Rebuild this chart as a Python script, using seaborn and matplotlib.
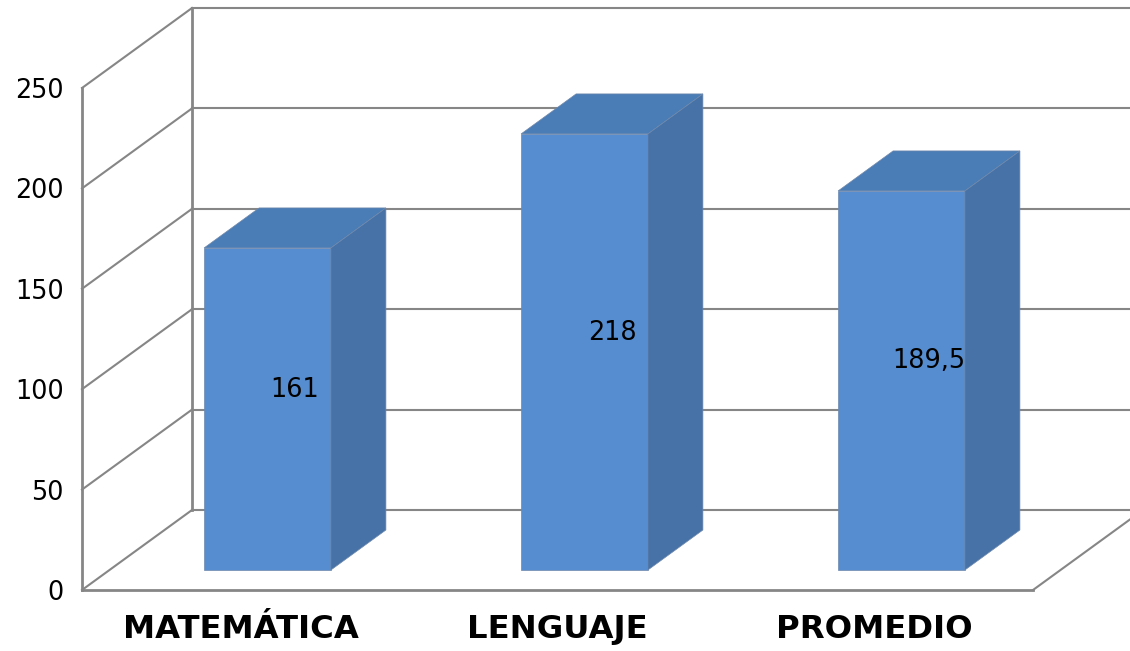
import matplotlib
matplotlib.use('Agg')
import matplotlib.pyplot as plt
from matplotlib.patches import Polygon
from matplotlib.transforms import Affine2D
import pandas as pd
import seaborn as sns

categories = ['MATEMÁTICA', 'LENGUAJE', 'PROMEDIO']
values = [161, 218, 189.5]
value_labels = ['161', '218', '189,5']
y_ticks = [0, 50, 100, 150, 200, 250]

FRONT = '#568dd0'
TOP = '#4a7cb6'
SIDE = '#4672a7'
EDGE = '#6f88ab'
GRID = '#868686'

sns.set_theme(style='white')
plt.rcParams['font.family'] = ['DejaVu Sans']

fig = plt.figure(figsize=(11.3, 6.51), dpi=100)
# axes box = front plane of the fake 3d chart, in pixels of the 1130x651 image
ax = fig.add_axes([82 / 1130, (651 - 590) / 651, (1033 - 82) / 1130, (590 - 88) / 651])

df = pd.DataFrame({'cat': categories, 'val': values})
sns.barplot(data=df, x='cat', y='val', color=FRONT, saturation=1, width=0.4, ax=ax, zorder=5)
ax.set_xlim(-0.5, 2.5)
ax.set_ylim(0, 250)

# depth of the walls and of the bars, in pixels (y up)
wall_dx, wall_dy = 110, 80
bar_dx, bar_dy = 55, 40
shift_x, shift_y = 27, 20

px = Affine2D()  # display coords


def to_px(x, y):
    return ax.transData.transform((x, y))


def wall_line(p0, p1, lw=1.5):
    ax.plot([p0[0], p1[0]], [p0[1], p1[1]], transform=px, color=GRID, lw=lw,
            clip_on=False, zorder=1, solid_capstyle='projecting')


x0, y0 = to_px(-0.5, 0)
x1, _ = to_px(2.5, 0)
_, ytop = to_px(-0.5, y_ticks[-1])

for t in y_ticks:
    _, y = to_px(-0.5, t)
    wall_line((x0, y), (x0 + wall_dx, y + wall_dy), lw=1.5)
    wall_line((x0 + wall_dx, y + wall_dy), (1130, y + wall_dy))
wall_line((x0, y0), (x0, ytop), lw=2)
wall_line((x0 + wall_dx, y0 + wall_dy), (x0 + wall_dx, ytop + wall_dy), lw=2)
wall_line((x0, y0), (x1, y0), lw=2)
wall_line((x1, y0), (x1 + wall_dx, y0 + wall_dy), lw=1.5)

# move the seaborn bars back to mid depth and add the top and side faces
# the bars use a slightly flatter scale than the wall gridlines
shift = Affine2D().translate(0, -y0).scale(1, 0.9962).translate(shift_x, y0 + shift_y)
bar_trans = ax.transData + shift
for bar, lab in zip(ax.patches, value_labels):
    (l, b), (r, t) = bar_trans.transform(bar.get_bbox().get_points())
    bar.set_transform(bar_trans)
    bar.set_edgecolor(EDGE)
    bar.set_linewidth(0.5)
    top = [(l, t), (r, t), (r + bar_dx, t + bar_dy), (l + bar_dx, t + bar_dy)]
    side = [(r, b), (r + bar_dx, b + bar_dy), (r + bar_dx, t + bar_dy), (r, t)]
    ax.add_patch(Polygon(top, closed=True, transform=px, fc=TOP, ec=EDGE, lw=0.5, clip_on=False, zorder=5))
    ax.add_patch(Polygon(side, closed=True, transform=px, fc=SIDE, ec=EDGE, lw=0.5, clip_on=False, zorder=5))
    ax.text((l + r) / 2 + shift_x + 0.5, (b + t) / 2 + shift_y - 1, lab, transform=px, ha='center', va='center',
            fontsize=18.4, color='black', zorder=6)

sns.despine(ax=ax, left=True, bottom=True, top=True, right=True)
ax.patch.set_visible(False)
ax.set_xlabel('')
ax.set_ylabel('')
ax.set_yticks(y_ticks)
ax.tick_params(axis='y', length=0, pad=13, labelsize=18.4, labelcolor='black')
ax.tick_params(axis='x', length=0, pad=17)
ax.set_xticks(range(len(categories)))
ax.set_xticklabels(categories, fontsize=23.2, fontweight='bold', color='black')

fig.savefig('out.png', dpi=100)
